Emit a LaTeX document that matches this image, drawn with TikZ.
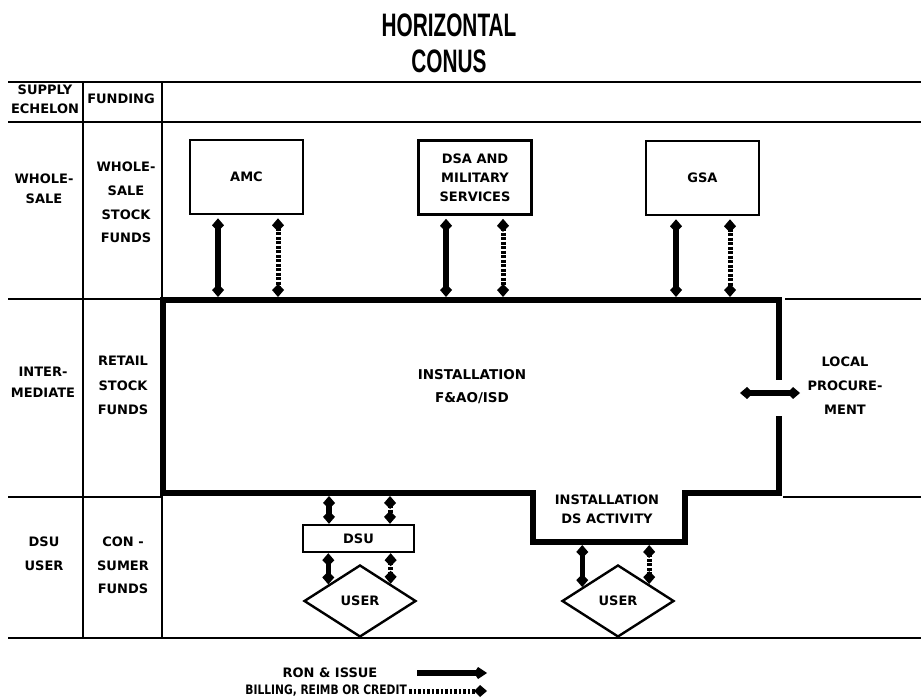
\documentclass[tikz,border=0pt]{standalone}
\usepackage{fontspec}
\usepackage{graphicx}
\setmainfont{DejaVu Sans}
\newfontfamily\titlefont{Liberation Sans}
\usetikzlibrary{arrows.meta,calc,shapes.geometric}
\tikzset{
  thin line/.style={line width=1.5pt},
  thick box/.style={line width=5.5pt, line join=miter},
  lbl/.style={font=\fontsize{13}{#1}\selectfont\bfseries, align=center, inner sep=0pt},
  lbl/.default=24,
  topbox/.style={draw, line width=2.6pt, minimum width=113pt, minimum height=74pt, inner sep=0pt, align=center, font=\fontsize{13}{19}\selectfont\bfseries},
  userbox/.style={draw, diamond, line width=2.4pt, minimum width=112pt, minimum height=72pt, inner sep=0pt, font=\fontsize{13}{15}\selectfont\bfseries},
  dkite/.tip={Kite[length=13pt,width=12pt,inset=6pt]},
  solidarr/.style={line width=5.5pt, dkite-dkite},
  dotarr/.style={line width=5pt, dash pattern=on 2.8pt off 1.7pt, dkite-dkite},
}
\begin{document}
\begin{tikzpicture}[x=1pt,y=-1pt]
\useasboundingbox (0,0) rectangle (921,700);
% title
\node[inner sep=0pt] (title1) at (449,25) {\scalebox{0.64}[1]{\titlefont\fontsize{32.5}{34}\selectfont\bfseries HORIZONTAL}};
\node[inner sep=0pt] (title2) at (449,61) {\scalebox{0.64}[1]{\titlefont\fontsize{32.5}{34}\selectfont\bfseries CONUS}};
% table grid
\draw[thin line] (8,82) -- (921,82);
\draw[thin line] (8,122) -- (921,122);
\draw[thin line] (8,299) -- (162,299);
\draw[thin line] (785,299) -- (921,299);
\draw[thin line] (8,497) -- (162,497);
\draw[thin line] (783,497) -- (921,497);
\draw[thin line] (8,638) -- (921,638);
\draw[thin line] (83,82) -- (83,638);
\draw[thin line] (162,82) -- (162,638);
% header labels
\node[lbl=19] (sechelon) at (45,99.5) {SUPPLY\\ECHELON};
\node[lbl] (funding) at (121,99) {FUNDING};
\node[lbl=20] (wsale) at (44,189) {WHOLE-\\SALE};
\node[lbl=23.7] (wsfunds) at (126,202.5) {WHOLE-\\SALE\\STOCK\\FUNDS};
\node[lbl=21] (inter) at (43,382.5) {INTER-\\MEDIATE};
\node[lbl=24.5] (retail) at (123,385.5) {RETAIL\\STOCK\\FUNDS};
\node[lbl=24] (dsuuser) at (44,554) {DSU\\USER};
\node[lbl=23.5] (consumer) at (123,565.5) {CON -\\SUMER\\FUNDS};
% installation outline
\draw[thick box] (779,380) -- (779,300) -- (163,300) -- (163,493) -- (533,493) -- (533,542) -- (685,542) -- (685,493) -- (779,493) -- (779,416);
\coordinate (itop) at (0,297);
\coordinate (ibot) at (0,496);
\coordinate (dsbot) at (0,545);
\node[lbl=23, font=\fontsize{13.5}{23}\selectfont\bfseries] (inst) at (472,386.5) {INSTALLATION\\F\&AO/ISD};
\node[lbl=19] (dsact) at (607,509.5) {INSTALLATION\\DS ACTIVITY};
\node[lbl=24] (local) at (845,386) {LOCAL\\PROCURE-\\MENT};
\coordinate (lpa) at (740,393);
\coordinate (lpb) at (800,393);
\draw[solidarr] (lpa) -- (lpb);
% wholesale boxes
\node[topbox] (amc) at (246.5,177) {AMC};
\node[topbox] (dsa) at (475,177.5) {DSA AND\\MILITARY\\SERVICES};
\node[topbox] (gsa) at (702.5,178) {GSA};
\draw[solidarr] ([xshift=-28.5pt,yshift=-3pt]amc.south) -- ([xshift=-28.5pt]amc.south |- itop);
\draw[dotarr] ([xshift=31.5pt,yshift=-3pt]amc.south) -- ([xshift=31.5pt]amc.south |- itop);
\draw[solidarr] ([xshift=-29pt,yshift=-3pt]dsa.south) -- ([xshift=-29pt]dsa.south |- itop);
\draw[dotarr] ([xshift=28pt,yshift=-3pt]dsa.south) -- ([xshift=28pt]dsa.south |- itop);
\draw[solidarr] ([xshift=-26.5pt,yshift=-3pt]gsa.south) -- ([xshift=-26.5pt]gsa.south |- itop);
\draw[dotarr] ([xshift=27.5pt,yshift=-3pt]gsa.south) -- ([xshift=27.5pt]gsa.south |- itop);
% DSU and users
\node[draw, line width=2.4pt, minimum width=111pt, minimum height=27pt, inner sep=0pt, font=\fontsize{13}{15}\selectfont\bfseries] (dsu) at (358.5,538.5) {DSU};
\node[userbox] (user1) at (360,601) {USER};
\node[userbox] (user2) at (618,601) {USER};
\draw[solidarr] ([xshift=-29.5pt]dsu.north |- ibot) -- ([xshift=-29.5pt]dsu.north);
\draw[dotarr] ([xshift=31.5pt]dsu.north |- ibot) -- ([xshift=31.5pt]dsu.north);
\coordinate (u1a) at ($(user1.west)!0.446!(user1.north)$);
\coordinate (u1b) at ($(user1.north)!0.536!(user1.east)$);
\coordinate (u2a) at ($(user2.west)!0.375!(user2.north)$);
\coordinate (u2b) at ($(user2.north)!0.545!(user2.east)$);
\draw[solidarr] (u1a |- dsu.south) -- (u1a);
\draw[dotarr] (u1b |- dsu.south) -- (u1b);
\draw[solidarr] (u2a |- dsbot) -- (u2a);
\draw[dotarr] (u2b |- dsbot) -- (u2b);
% legend
\node[lbl, anchor=center] (ron) at (330,673) {RON \& ISSUE};
\node[inner sep=0pt, anchor=east] (bill) at (407,691) {\scalebox{0.82}[1]{\fontsize{13}{15}\selectfont\bfseries BILLING, REIMB OR CREDIT}};
\coordinate (l1a) at (417,673);
\coordinate (l1b) at (487,673);
\coordinate (l2a) at (409,691);
\coordinate (l2b) at (487,691);
\draw[line width=5.5pt, -{Kite[length=13pt,width=12pt,inset=4pt]}] (l1a) -- (l1b);
\draw[line width=5pt, dash pattern=on 2.8pt off 1.7pt, -dkite] (l2a) -- (l2b);
\end{tikzpicture}
\end{document}
